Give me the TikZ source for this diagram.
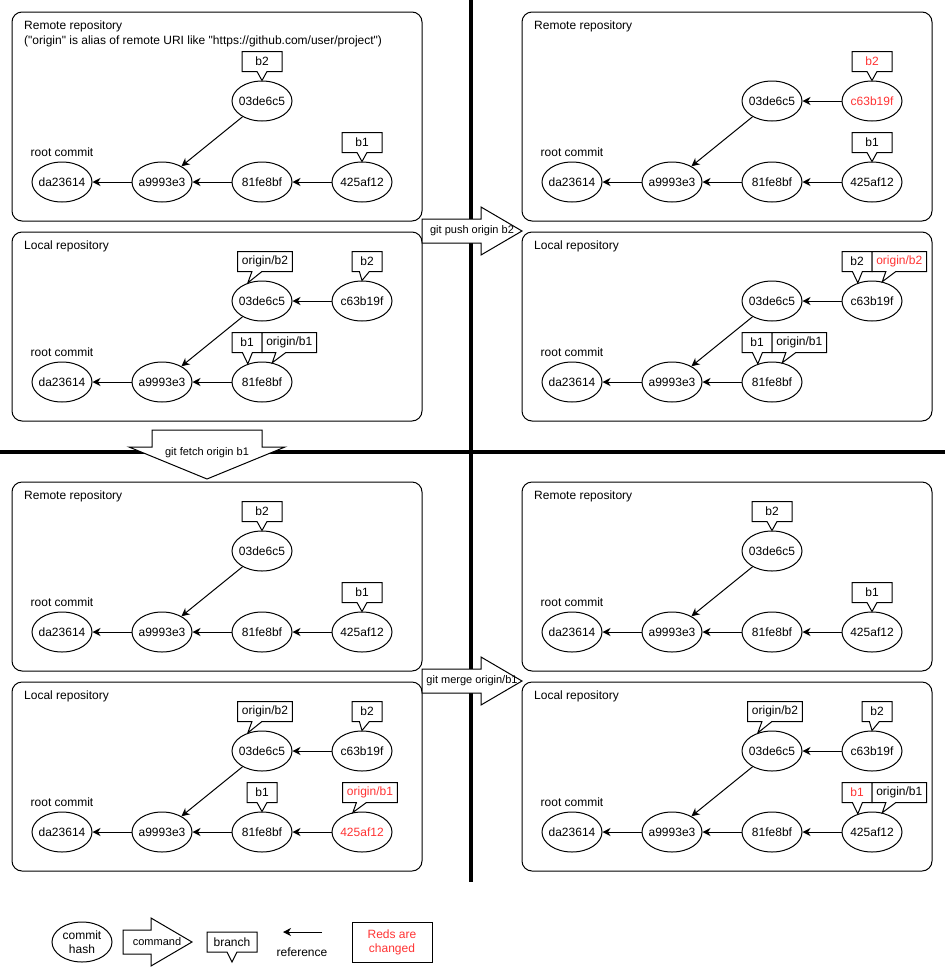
\documentclass[tikz,border=0pt]{standalone}
\usepackage{fontspec}
\setmainfont{Liberation Sans}
\usepackage{xcolor}
\usepackage{tikz}
\usetikzlibrary{shapes.geometric, shapes.callouts, arrows.meta, positioning, calc}
\definecolor{changed}{RGB}{255, 51, 51}

\tikzset{
    commit/.style={ellipse, draw, line width=1pt, fill=white, minimum width=60pt, minimum height=40pt, inner xsep=-5pt, inner ysep=0pt},
    branch/.style={rectangle callout, draw, line width=1pt, fill=white, minimum width=30pt, minimum height=20pt, inner xsep=4.3pt, inner ysep=0pt, outer sep=0pt, callout pointer width=10pt},
    remotebr/.style={minimum width=40pt},
    refline/.style={line width=1pt, -{Stealth[length=8pt, width=8pt, inset=2.5pt]}},
    repo/.style={draw, line width=1pt, rounded corners=10pt},
    repotitle/.style={anchor=base west, inner sep=0pt},
    lbl/.style={},
    divider/.style={line width=3.5pt},
    cmd/.style={draw, line width=1pt, fill=white},
    cmdtext/.style={font=\fontsize{11}{13}\selectfont, inner sep=0pt},
}

\begin{document}
\begin{tikzpicture}[x=1pt, y=-1pt, every node/.style={font=\fontsize{12}{14}\selectfont}]
    \useasboundingbox (0,0) rectangle (945,967);

    % Repository frames
    \foreach \dx in {0,510} {
        \draw[repo] (\dx+12,12) rectangle (\dx+422,221);
        \draw[repo] (\dx+12,232) rectangle (\dx+422,421);
        \draw[repo] (\dx+12,482) rectangle (\dx+422,671);
        \draw[repo] (\dx+12,682) rectangle (\dx+422,871);
    }

    % Frame titles
    \node[repotitle, anchor=north west, align=left, font=\fontsize{12}{15}\selectfont] (tlr-title) at (24,20.5) {Remote repository\\(\textquotedbl origin\textquotedbl{} is alias of remote URI like \textquotedbl https://github.com/user/project\textquotedbl)};
    \foreach \p/\dx/\dy in {trr/510/0, blr/0/470, brr/510/470}
        \node[repotitle] (\p-title) at (\dx+24,\dy+29.5) {Remote repository};
    \foreach \p/\dx/\dy in {tll/0/0, trl/510/0, bll/0/450, brl/510/450}
        \node[repotitle] (\p-title) at (\dx+24,\dy+249.5) {Local repository};

    % Dividers
    \draw[divider] (471,0) -- (471,882);
    \draw[divider] (0,452) -- (945,452);

    % Commands
    \draw[cmd] (422,219) -- (481,219) -- (481,207) -- (522,231) -- (481,255) -- (481,243) -- (422,243) -- cycle;
    \node[cmdtext] (push) at (472,231) {git push origin b2};
    \draw[cmd] (152,430) -- (262,430) -- (262,447) -- (285,447) -- (207,479) -- (129,447) -- (152,447) -- cycle;
    \node[cmdtext] (fetch) at (207,453) {git fetch origin b1};
    \draw[cmd] (422,669) -- (481,669) -- (481,657) -- (522,681) -- (481,705) -- (481,693) -- (422,693) -- cycle;
    \node[cmdtext] (merge) at (472,681) {git merge origin/b1};

    % Commits in every repository
    \foreach \p/\dx/\ry in {tlr/0/182, tll/0/382, trr/510/182, trl/510/382, blr/0/632, bll/0/832, brr/510/632, brl/510/832} {
        \node[commit] (\p-da) at (\dx+62,\ry) {da23614};
        \node[commit] (\p-a9) at (\dx+162,\ry) {a9993e3};
        \node[commit] (\p-81) at (\dx+262,\ry) {81fe8bf};
        \node[commit] (\p-03) at (\dx+262,\ry-81) {03de6c5};
        \node[lbl, above=1pt of \p-da] (\p-root) {root commit};
        \draw[refline] (\p-a9) -- (\p-da);
        \draw[refline] (\p-81) -- (\p-a9);
        \draw[refline] (\p-03) -- (\p-a9);
    }

    % Remotes: b1 at 425af12, b2 at 03de6c5
    \foreach \p/\dx/\ry in {tlr/0/182, blr/0/632, brr/510/632} {
        \node[commit] (\p-42) at (\dx+362,\ry) {425af12};
        \draw[refline] (\p-42) -- (\p-81);
        \node[branch, remotebr, above=9pt of \p-03, callout absolute pointer={(\p-03.north)}] (\p-b2) {b2};
        \node[branch, remotebr, above=9pt of \p-42, callout absolute pointer={(\p-42.north)}] (\p-b1) {b1};
    }

    % Remote after push
    \node[commit, text=changed] (trr-c6) at (872,101) {c63b19f};
    \node[commit] (trr-42) at (872,182) {425af12};
    \draw[refline] (trr-c6) -- (trr-03);
    \draw[refline] (trr-42) -- (trr-81);
    \node[branch, remotebr, text=changed, above=9pt of trr-c6, callout absolute pointer={(trr-c6.north)}] (trr-b2) {b2};
    \node[branch, remotebr, above=9pt of trr-42, callout absolute pointer={(trr-42.north)}] (trr-b1) {b1};

    % Locals: c63b19f on top of 03de6c5
    \foreach \p/\dx/\ry in {tll/0/382, trl/510/382, bll/0/832, brl/510/832} {
        \node[commit] (\p-c6) at (\dx+362,\ry-81) {c63b19f};
        \draw[refline] (\p-c6) -- (\p-03);
    }
    \foreach \p in {tll, bll, brl} {
        \node[branch, above=9pt of \p-03, xshift=3pt, callout absolute pointer={(\p-03.128)}] (\p-ob2) {origin/b2};
        \node[branch, above=9pt of \p-c6, xshift=5pt, callout absolute pointer={(\p-c6.north)}] (\p-b2) {b2};
    }
    \foreach \p in {tll, trl} {
        \node[branch, anchor=south east, callout absolute pointer={(\p-81.128)}] (\p-b1) at ([yshift=9pt]\p-81.north) {b1};
        \node[branch, right=0pt of \p-b1, callout absolute pointer={(\p-81.62)}] (\p-ob1) {origin/b1};
    }

    % Local after push
    \node[branch, anchor=south east, callout absolute pointer={(trl-c6.128)}] (trl-b2) at ([yshift=9pt]trl-c6.north) {b2};
    \node[branch, text=changed, right=0pt of trl-b2, callout absolute pointer={(trl-c6.62)}] (trl-ob2) {origin/b2};

    % Local after fetch
    \node[commit, text=changed] (bll-42) at (362,832) {425af12};
    \draw[refline] (bll-42) -- (bll-81);
    \node[branch, above=9pt of bll-81, callout absolute pointer={(bll-81.north)}] (bll-b1) {b1};
    \node[branch, text=changed, above=9pt of bll-42, xshift=8pt, callout absolute pointer={(bll-42.115)}] (bll-ob1) {origin/b1};

    % Local after merge
    \node[commit] (brl-42) at (872,832) {425af12};
    \draw[refline] (brl-42) -- (brl-81);
    \node[branch, text=changed, anchor=south east, callout absolute pointer={(brl-42.128)}] (brl-b1) at ([yshift=9pt]brl-42.north) {b1};
    \node[branch, right=0pt of brl-b1, callout absolute pointer={(brl-42.62)}] (brl-ob1) {origin/b1};

    % Legend
    \node[commit, align=center] (key-commit) at (82,942) {commit\\hash};
    \draw[cmd] (123,930) -- (151,930) -- (151,918) -- (192,942) -- (151,966) -- (151,954) -- (123,954) -- cycle;
    \node[cmdtext] (key-cmd) at (157,942) {command};
    \node[branch, minimum width=50pt, callout absolute pointer={(232,962)}] (key-branch) at (232,942) {branch};
    \coordinate (key-from) at (322,932);
    \coordinate (key-to) at (283,932);
    \draw[refline] (key-from) -- (key-to);
    \node[lbl] (key-ref) at (302,952) {reference};
    \node[draw, line width=1pt, minimum width=80pt, minimum height=40pt, align=center, text=changed] (key-red) at (392,942) {Reds are\\changed};
\end{tikzpicture}
\end{document}
